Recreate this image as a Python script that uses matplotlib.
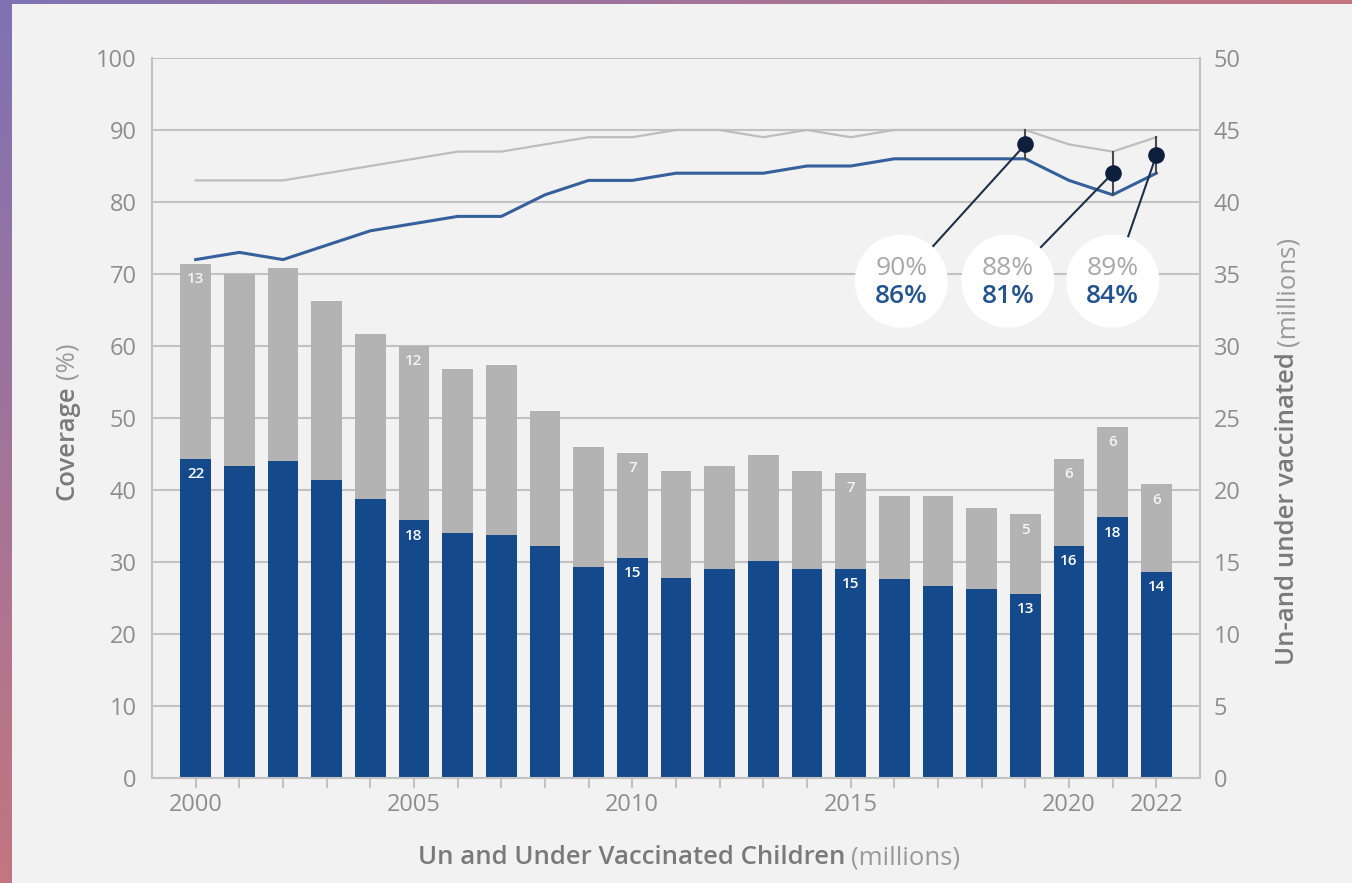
import numpy as np
import matplotlib
matplotlib.use("Agg")
from matplotlib import pyplot as plt
from matplotlib.colors import LinearSegmentedColormap

plt.rcParams['font.family'] = ['Open Sans', 'DejaVu Sans']

years = list(range(2000, 2023))
# millions of children
blue_vals = [22.15, 21.7, 22.0, 20.7, 19.4, 17.9, 17.0, 16.9, 16.1, 14.65, 15.3, 13.9,
             14.5, 15.1, 14.5, 14.5, 13.8, 13.3, 13.1, 12.8, 16.1, 18.1, 14.3]
gray_vals = [13.55, 13.3, 13.4, 12.4, 11.4, 12.1, 11.4, 11.8, 9.4, 8.35, 7.3, 7.4,
             7.2, 7.3, 6.8, 6.7, 5.8, 6.3, 5.65, 5.5, 6.05, 6.3, 6.1]
# coverage %
dtp1 = [83, 83, 83, 84, 85, 86, 87, 87, 88, 89, 89, 90, 90, 89, 90, 89, 90, 90, 90, 90, 88, 87, 89]
dtp3 = [72, 73, 72, 74, 76, 77, 78, 78, 81, 83, 83, 84, 84, 84, 85, 85, 86, 86, 86, 86, 83, 81, 84]

label_years = [2000, 2005, 2010, 2015, 2019, 2020, 2021, 2022]
blue_labels = ["22", "18", "15", "15", "13", "16", "18", "14"]
gray_labels = ["13", "12", "7", "7", "5", "6", "6", "6"]

callout_years = [2019, 2021, 2022]
callout_top = ["90%", "88%", "89%"]
callout_bottom = ["86%", "81%", "84%"]
callout_pos = [(2016.16, 69), (2018.6, 69), (2021.0, 69)]

tick_years = [2000, 2005, 2010, 2015, 2020, 2022]

BG = "#f2f2f2"
BLUE = "#144a8b"
GRAY = "#b3b3b3"
LINE_BLUE = "#36609c"
LINE_GRAY = "#bdbdbd"
AXIS_C = "#c2c2c2"
TEXT_C = "#8e8e8e"

fig = plt.figure(figsize=(13.52, 8.83), dpi=100, facecolor=BG)

# gradient border (left and top)
cmap = LinearSegmentedColormap.from_list("edge", ["#7f72b3", "#c47680"])
left = fig.add_axes([0, 0, 12 / 1352, 1])
left.imshow(np.linspace(0, 1, 200).reshape(-1, 1), aspect="auto", cmap=cmap)
left.axis("off")
top = fig.add_axes([0, 1 - 4 / 883, 1, 4 / 883])
top.imshow(np.linspace(0, 1, 200).reshape(1, -1), aspect="auto", cmap=cmap)
top.axis("off")

ax = fig.add_axes([152 / 1352, 1 - 778 / 883, (1200 - 152) / 1352, (778 - 58) / 883])
ax.set_facecolor(BG)
axp = ax.twinx()

# bars (millions, right axis)
ax.bar(years, blue_vals, width=0.7, color=BLUE, zorder=2)
ax.bar(years, gray_vals, width=0.7, bottom=blue_vals, color=GRAY, zorder=2)

for y, bl, gl in zip(label_years, blue_labels, gray_labels):
    i = years.index(y)
    ax.annotate(bl, (y, blue_vals[i]), xytext=(0, -11), textcoords="offset points",
                ha="center", va="center", color="white", fontsize=11, fontweight="semibold", zorder=3)
    ax.annotate(gl, (y, blue_vals[i] + gray_vals[i]), xytext=(0, -11), textcoords="offset points",
                ha="center", va="center", color="#f4f4f4", fontsize=11, fontweight="semibold", zorder=3)

ax.set_xlim(1999, 2023)
ax.set_ylim(0, 50)
ax.set_yticks(range(0, 51, 5))
ax.yaxis.tick_right()
ax.grid(axis="y", color=AXIS_C, linewidth=1.5, zorder=0)
ax.set_axisbelow(True)
ax.set_xticks(years)
ax.set_xticklabels([str(y) if y in tick_years else "" for y in years])
ax.tick_params(axis="x", length=7, width=1.5, color=AXIS_C, pad=4, labelsize=17, labelcolor=TEXT_C)
ax.tick_params(axis="y", length=0, pad=10, labelsize=17, labelcolor=TEXT_C)
for s in ["left", "right", "bottom"]:
    ax.spines[s].set_color(AXIS_C)
    ax.spines[s].set_linewidth(1.5)
ax.spines["top"].set_visible(False)

# coverage lines (%, left axis)
axp.set_ylim(0, 100)
axp.set_yticks(range(0, 101, 10))
axp.yaxis.tick_left()
axp.tick_params(axis="y", length=0, pad=11, labelsize=17, labelcolor=TEXT_C)
for s in axp.spines.values():
    s.set_visible(False)

axp.plot(years, dtp1, color=LINE_GRAY, linewidth=1.6, zorder=3)
axp.plot(years, dtp3, color=LINE_BLUE, linewidth=2.2, zorder=3)

for y, t1, t2, (cx, cy) in zip(callout_years, callout_top, callout_bottom, callout_pos):
    i = years.index(y)
    mid = (dtp1[i] + dtp3[i]) / 2
    axp.plot([y, y], [dtp1[i], dtp3[i]], color="#4a4a4a", linewidth=1.5, zorder=4)
    axp.plot([cx, y], [cy, mid], color="#1e2f4a", linewidth=1.5, zorder=4)
    axp.scatter([y], [mid], s=120, color="#0d1f3d", zorder=6)
    axp.scatter([cx], [cy], s=4490, color="white", edgecolors="none", zorder=5)
    axp.annotate(t1, (cx, cy), xytext=(0, 9), textcoords="offset points", ha="center",
                 va="center", fontsize=19, color="#a8a8a8", zorder=7)
    axp.annotate(t2, (cx, cy), xytext=(0, -11), textcoords="offset points", ha="center",
                 va="center", fontsize=19, color="#24538f", fontweight="semibold", zorder=7)


# axis titles with a heavy part and a light part
def two_part(x, y, a, b, rot):
    r = fig.canvas.get_renderer()
    kw = dict(fontsize=18.5, rotation=rot, rotation_mode="anchor", ha="left", va="center")
    t1 = fig.text(x / 1352, 1 - y / 883, a, color="#7a7a7a", fontweight="semibold", **kw)
    bb = t1.get_window_extent(r)
    if rot == 90:
        t2 = fig.text(x / 1352, (bb.y1 + 6) / 883, b, color="#9a9a9a", **kw)
    else:
        t2 = fig.text((bb.x1 + 6) / 1352, 1 - y / 883, b, color="#9a9a9a", **kw)
    return t1, t2


two_part(67, 500, "Coverage", "(%)", 90)
two_part(1288, 665, "Un-and under vaccinated", "(millions)", 90)
two_part(418, 858, "Un and Under Vaccinated Children", "(millions)", 0)

fig.savefig("out.png", dpi=100, facecolor=BG)
